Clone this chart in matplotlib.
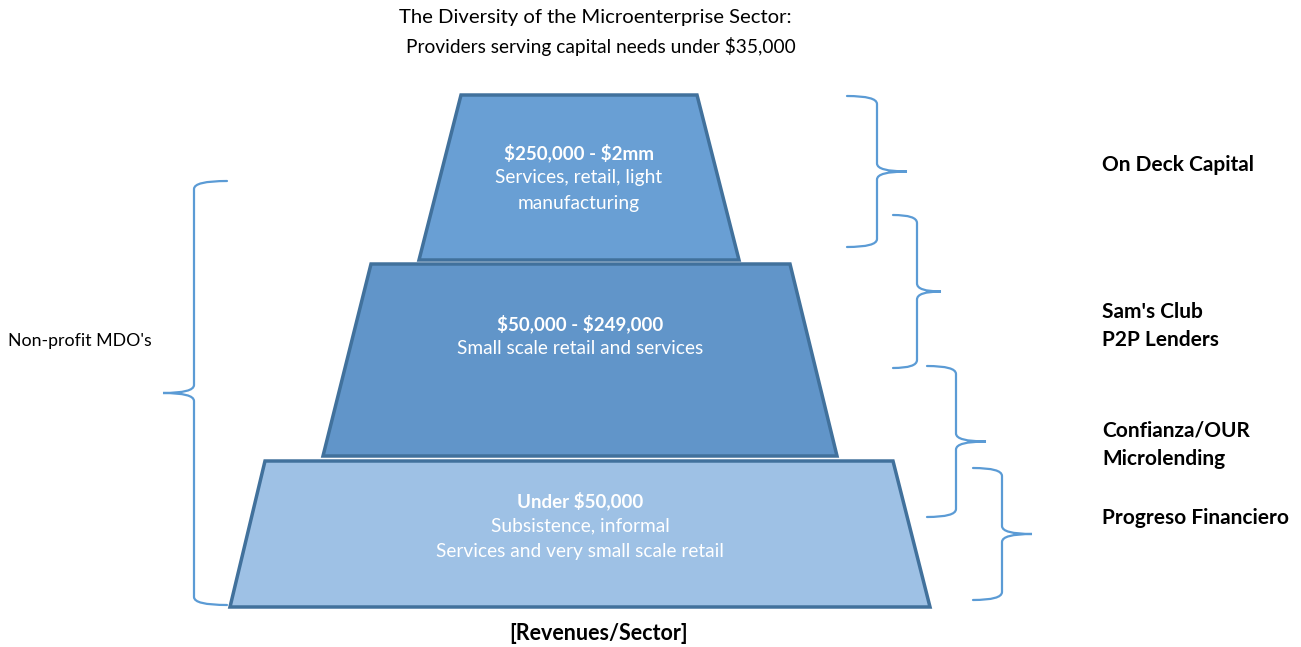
import matplotlib.pyplot as plt
from matplotlib.patches import Polygon, PathPatch
from matplotlib.path import Path

plt.rcParams["font.family"] = ["Lato", "DejaVu Sans"]
plt.rcParams["text.parse_math"] = False

# tiers, top to bottom
tier_titles = ["$250,000 - $2mm", "$50,000 - $249,000", "Under $50,000"]
tier_notes = [
    ["Services, retail, light", "manufacturing"],
    ["Small scale retail and services"],
    ["Subsistence, informal", "Services and very small scale retail"],
]
tier_colors = ["#699FD4", "#6195C9", "#9EC1E5"]

# trapezoid outlines in pixel coords: (top_left, top_right, bottom_left, bottom_right, y_top, y_bottom)
tier_shapes = [
    (461, 697, 419, 739, 95, 260),
    (371, 790, 323, 837, 264, 456),
    (265, 893, 230, 930, 461, 607),
]
tier_text_y = [153, 324, 501]

# right-hand braces: (end_x, spine_x, tip_x, y_top, y_bottom)
right_braces = [
    (847, 877, 907, 96, 247),
    (893, 917, 941, 215, 368),
    (927, 956, 986, 366, 517),
    (973, 1002, 1032, 468, 600),
]
provider_labels = [
    ("On Deck Capital", 165),
    ("Sam's Club\nP2P Lenders", 326),
    ("Confianza/OUR\nMicrolending", 445),
    ("Progreso Financiero", 518),
]

W, H = 1301, 647
fig = plt.figure(figsize=(W / 100, H / 100), dpi=100)
ax = fig.add_axes([0, 0, 1, 1])
ax.set_xlim(0, W)
ax.set_ylim(H, 0)
ax.axis("off")

brace_color = "#5B9BD5"
edge_color = "#41719C"


def brace(x_end, x_spine, x_tip, y0, y1, r=8):
    """Curly brace; tip on the side of x_tip."""
    ym = (y0 + y1) / 2
    verts = [
        (x_end, y0), (x_spine, y0), (x_spine, y0 + r),
        (x_spine, ym - r),
        (x_spine, ym), (x_tip, ym),
        (x_spine, ym), (x_spine, ym + r),
        (x_spine, y1 - r),
        (x_spine, y1), (x_end, y1),
    ]
    codes = [Path.MOVETO, Path.CURVE3, Path.CURVE3, Path.LINETO,
             Path.CURVE3, Path.CURVE3, Path.CURVE3, Path.CURVE3,
             Path.LINETO, Path.CURVE3, Path.CURVE3]
    ax.add_patch(PathPatch(Path(verts, codes), fill=False,
                           edgecolor=brace_color, lw=1.6, capstyle="round"))


# pyramid tiers
for (tl, tr, bl, br, yt, yb), col, title, notes, ty in zip(
        tier_shapes, tier_colors, tier_titles, tier_notes, tier_text_y):
    ax.add_patch(Polygon([(tl, yt), (tr, yt), (br, yb), (bl, yb)], closed=True,
                         facecolor=col, edgecolor=edge_color, lw=2.5, joinstyle="miter"))
    cx = (bl + br) / 2
    ax.text(cx, ty, title, ha="center", va="center", color="white",
            fontsize=13.5, fontweight="bold")
    for i, line in enumerate(notes):
        ax.text(cx, ty + 25 * (i + 1), line, ha="center", va="center",
                color="white", fontsize=13.8)

# braces
for b in right_braces:
    brace(*b)
brace(227, 194, 163, 181, 605)

for label, y in provider_labels:
    ax.text(1102, y, label, ha="left", va="center", fontsize=15,
            fontweight="bold", linespacing=1.55)

ax.text(8, 341, "Non-profit MDO's", ha="left", va="center", fontsize=12.8)

# titles
ax.text(595, 18, "The Diversity of the Microenterprise Sector:",
        ha="center", va="center", fontsize=14.6)
ax.text(601, 47, "Providers serving capital needs under $35,000",
        ha="center", va="center", fontsize=13.8)
ax.text(599, 634, "[Revenues/Sector]", ha="center", va="center",
        fontsize=15.5, fontweight="bold")

fig.savefig("out.png", dpi=100, facecolor="white")
